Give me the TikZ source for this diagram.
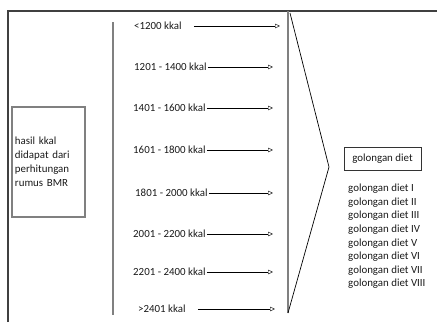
\documentclass[tikz,border=0pt]{standalone}
\usepackage{fontspec}
\setmainfont{Carlito}
\usetikzlibrary{arrows.meta, positioning}

\begin{document}
\begin{tikzpicture}[
    x=1pt, y=-1pt,
    font=\fontsize{10.9}{14}\selectfont,
    kkal/.style = {inner sep=1pt, anchor=west, text=black!90},
    bmrbox/.style = {rectangle, draw=black!50, line width=1.2pt, align=left, text width=67pt, minimum height=110pt, inner sep=3pt, text=black!90},
    dietbox/.style = {rectangle, draw=black!80, line width=0.7pt, minimum width=77pt, minimum height=23pt, inner sep=2pt, text=black!90},
    frame/.style = {draw=black!75, line width=1.1pt},
    bar/.style = {draw=black!50, line width=1.3pt},
    >={Triangle[open, length=5pt, width=4.5pt]}]

    \useasboundingbox (0,0) rectangle (437,322);

    % frame and bars
    \draw[frame] (8,322) -- (8,11) -- (437,11);
    \draw[bar] (113,22) -- (113,315);
    \draw[bar] (288,11) -- (288,313);
    \draw[line width=0.7pt] (290,13) -- (329,167) -- (288,313);

    \node[bmrbox] (bmr) at (48.5,162) {hasil kkal\\didapat dari\\perhitungan\\rumus BMR};

    \node[kkal] (k1) at (133,26) {<1200 kkal};
    \node[kkal] (k2) at (133,67) {1201 - 1400 kkal};
    \node[kkal] (k3) at (132,108) {1401 - 1600 kkal};
    \node[kkal] (k4) at (132,150) {1601 - 1800 kkal};
    \node[kkal] (k5) at (134,193) {1801 - 2000 kkal};
    \node[kkal] (k6) at (132,234) {2001 - 2200 kkal};
    \node[kkal] (k7) at (132,272) {2201 - 2400 kkal};
    \node[kkal] (k8) at (137,309) {>2401 kkal};

    \coordinate (t1) at (280,26);
    \coordinate (t2) at (273,67);
    \coordinate (t3) at (273,108);
    \coordinate (t4) at (273,150);
    \coordinate (t5) at (273,193);
    \coordinate (t6) at (273,234);
    \coordinate (t7) at (273,272);
    \coordinate (t8) at (275,309);

    \draw[->] ([xshift=11pt]k1.east) -- (t1);
    \draw[->] (k2) -- (t2);
    \draw[->] (k3) -- (t3);
    \draw[->] (k4) -- (t4);
    \draw[->] (k5) -- (t5);
    \draw[->] (k6) -- (t6);
    \draw[->] (k7) -- (t7);
    \draw[->] ([xshift=11pt]k8.east) -- (t8);

    \node[dietbox] (gol) at (382.5,158.5) {golongan diet};
    \node[anchor=north west, align=left, inner sep=2pt, text=black!90,
          font=\fontsize{10.9}{13.6}\selectfont] (list) at (346,182)
        {golongan diet I\\golongan diet II\\golongan diet III\\golongan diet IV\\golongan diet V\\golongan diet VI\\golongan diet VII\\golongan diet VIII};
\end{tikzpicture}
\end{document}
